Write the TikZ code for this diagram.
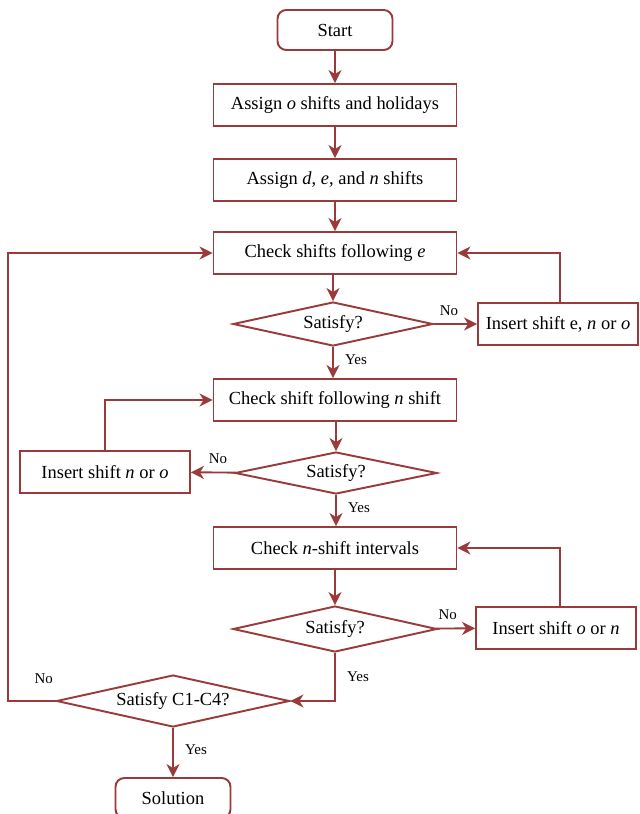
\documentclass[tikz,border=0pt]{standalone}
\usepackage{fontspec}
\setmainfont{Liberation Serif}
\usepackage{tikz}
\usetikzlibrary{arrows.meta,positioning,shapes.geometric}
\definecolor{brick}{HTML}{9B3A3A}
\tikzset{
  box/.style={draw=brick,fill=white,line width=1.1pt,minimum width=4.86cm,minimum height=0.84cm,inner sep=2pt,font=\fontsize{10.5}{12}\selectfont},
  sidebox/.style={box,minimum width=3.2cm},
  endbox/.style={box,rounded corners=5pt,minimum width=2.3cm,minimum height=0.8cm},
  decide/.style={draw=brick,fill=white,line width=1.1pt,diamond,aspect=4.5,inner sep=0pt,font=\fontsize{10.5}{12}\selectfont},
  arrow/.style={-{Stealth[length=2.6mm,width=2.6mm,inset=0.8mm]},line width=1.1pt,color=brick},
  lbl/.style={font=\fontsize{8.5}{10}\selectfont,text=black},
}
\begin{document}
\begin{tikzpicture}[x=0.02cm,y=-0.02cm]
    \useasboundingbox (0,0) rectangle (639,814);
    % main column
    \node[endbox] (start) at (335,30) {Start};
    \node[box] (assigno) at (335,105) {Assign \textit{o} shifts and holidays};
    \node[box] (assigndn) at (335,180) {Assign \textit{d}, \textit{e}, and \textit{n} shifts};
    \node[box] (checke) at (335,253) {Check shifts following \textit{e}};
    \node[decide,minimum width=4cm,minimum height=0.88cm] (sat1) at (333,324) {Satisfy?};
    \node[sidebox] (inse) at (558,324) {Insert shift e, \textit{n} or \textit{o}};
    \node[box] (checkn) at (335,400) {Check shift following \textit{n} shift};
    \node[decide,minimum width=4.04cm,minimum height=0.84cm] (sat2) at (336,473) {Satisfy?};
    \node[sidebox,minimum width=3.4cm] (insn) at (105,472) {Insert shift \textit{n} or \textit{o}};
    \node[box] (checkint) at (335,548) {Check \textit{n}-shift intervals};
    \node[decide,minimum width=4.08cm,minimum height=0.92cm] (sat3) at (335,629) {Satisfy?};
    \node[sidebox] (inso) at (556,628) {Insert shift \textit{o} or \textit{n}};
    \node[decide,minimum width=4.66cm,minimum height=1.04cm] (satc) at (173,701) {Satisfy C1-C4?};
    \node[endbox] (sol) at (173,798) {Solution};
    % connectors
    \draw[arrow] (start) -- (assigno);
    \draw[arrow] (assigno) -- (assigndn);
    \draw[arrow] (assigndn) -- (checke);
    \draw[arrow] (checke.south -| sat1.north) -- (sat1);
    \draw[arrow] (sat1) -- node[lbl,above=1pt,pos=0.35] {No} (inse);
    \draw[arrow] (inse.north -| 560,0) |- (checke);
    \draw[arrow] (sat1) -- node[lbl,right=3pt,pos=0.4] {Yes} (sat1.south |- checkn.north);
    \draw[arrow] (checkn.south -| sat2.north) -- (sat2);
    \draw[arrow] (sat2) -- node[lbl,above=1pt,pos=0.4] {No} (insn);
    \draw[arrow] (insn) |- (checkn);
    \draw[arrow] (sat2) -- node[lbl,right=3pt,pos=0.4] {Yes} (sat2.south |- checkint.north);
    \draw[arrow] (checkint) -- (sat3);
    \draw[arrow] (sat3) -- node[lbl,above=1pt,pos=0.3] {No} (inso);
    \draw[arrow] (inso.north -| 560,0) |- (checkint);
    \draw[arrow] (sat3) |- node[lbl,right=3pt,pos=0.25] {Yes} (satc);
    \draw[arrow] (satc) -- node[lbl,above=6pt,pos=0.25] {No} (8,701) |- (checke);
    \draw[arrow] (satc) -- node[lbl,right=3pt,pos=0.45] {Yes} (sol);
\end{tikzpicture}
\end{document}
